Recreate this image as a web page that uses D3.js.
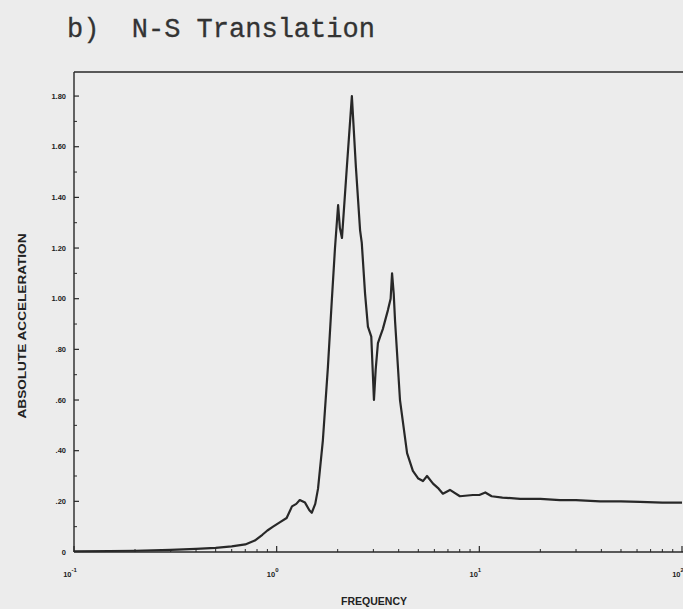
<!DOCTYPE html>
<html>
<head>
<meta charset="utf-8">
<script src="https://cdn.jsdelivr.net/npm/d3@7/dist/d3.min.js"></script>
<style>
  html, body { margin: 0; padding: 0; background: #ececec; }
  svg { display: block; }
</style>
</head>
<body>
<svg id="chart" width="683" height="609"></svg>
<script>
// Response spectrum, N-S translation: frequency (Hz) vs absolute acceleration
const frequency = [0.1, 0.15, 0.2, 0.3, 0.4, 0.5, 0.6, 0.7, 0.78, 0.85, 0.9, 0.96, 1.04, 1.12,
  1.19, 1.25, 1.3, 1.38, 1.45, 1.49, 1.55, 1.6, 1.69, 1.79, 1.87, 1.94, 2.01, 2.05, 2.1, 2.22,
  2.35, 2.46, 2.58, 2.63, 2.73, 2.82, 2.93, 3.02, 3.08, 3.16, 3.24, 3.34, 3.54, 3.65, 3.71, 3.78,
  3.84, 4.06, 4.4, 4.7, 5.0, 5.27, 5.52, 5.91, 6.3, 6.61, 7.16, 8.02, 9.29, 10.0, 10.7, 11.5,
  13, 15.9, 20, 25, 30, 39.4, 50, 62, 80, 100];
const acceleration = [0.003, 0.004, 0.005, 0.008, 0.012, 0.016, 0.022, 0.03, 0.045, 0.068, 0.085,
  0.1, 0.118, 0.134, 0.18, 0.19, 0.205, 0.195, 0.165, 0.155, 0.19, 0.25, 0.44, 0.73, 0.99, 1.2,
  1.37, 1.28, 1.24, 1.52, 1.80, 1.52, 1.27, 1.22, 1.02, 0.89, 0.85, 0.60, 0.72, 0.825, 0.85,
  0.88, 0.955, 1.0, 1.10, 1.02, 0.91, 0.60, 0.39, 0.32, 0.29, 0.28, 0.30, 0.27, 0.25, 0.23, 0.245,
  0.22, 0.225, 0.225, 0.235, 0.22, 0.215, 0.21, 0.21, 0.205, 0.205, 0.2, 0.2, 0.198, 0.195, 0.195];

const yTickValues = [0, 0.2, 0.4, 0.6, 0.8, 1.0, 1.2, 1.4, 1.6, 1.8];
const yTickLabels = ["0", ".20", ".40", ".60", ".80", "1.00", "1.20", "1.40", "1.60", "1.80"];
const xDecades = [0.1, 1, 10, 100];
const xDecadeExponents = ["-1", "0", "1", "2"];

const titleText = "b)  N-S Translation";
const xLabel = "FREQUENCY";
const yLabel = "ABSOLUTE ACCELERATION";

const svg = d3.select("#chart");
const plotLeft = 74, plotRight = 682, plotTop = 72, plotBottom = 552;

const x = d3.scaleLog().domain([0.1, 100]).range([plotLeft, plotRight]);
const y = d3.scaleLinear().domain([0, 1.895]).range([plotBottom, plotTop]);

const ink = "#282828";

// title
svg.append("text")
  .attr("x", 67).attr("y", 37)
  .attr("font-family", "'Liberation Mono', 'DejaVu Sans Mono', monospace")
  .attr("font-size", 27)
  .attr("fill", "#333")
  .attr("stroke", "#333").attr("stroke-width", 0.3)
  .style("white-space", "pre")
  .attr("xml:space", "preserve")
  .text(titleText);

// frame: left axis, top line, bottom axis
svg.append("line").attr("x1", plotLeft).attr("x2", plotLeft).attr("y1", plotTop).attr("y2", plotBottom)
  .attr("stroke", ink).attr("stroke-width", 1.4);
svg.append("line").attr("x1", plotLeft).attr("x2", 683).attr("y1", plotTop).attr("y2", plotTop)
  .attr("stroke", ink).attr("stroke-width", 1.4);
svg.append("line").attr("x1", plotLeft).attr("x2", 683).attr("y1", plotBottom).attr("y2", plotBottom)
  .attr("stroke", ink).attr("stroke-width", 1.4);

// y ticks (inward), majors every 0.2, minors between
const yMinor = d3.range(0.1, 1.9, 0.2);
svg.append("g").selectAll("line").data(yTickValues.slice(1)).join("line")
  .attr("x1", plotLeft).attr("x2", plotLeft + 5)
  .attr("y1", d => y(d)).attr("y2", d => y(d))
  .attr("stroke", ink).attr("stroke-width", 1.2);
svg.append("g").selectAll("line").data(yMinor).join("line")
  .attr("x1", plotLeft).attr("x2", plotLeft + 3)
  .attr("y1", d => y(d)).attr("y2", d => y(d))
  .attr("stroke", ink).attr("stroke-width", 1);

svg.append("g").selectAll("text").data(yTickValues).join("text")
  .attr("x", 66).attr("y", d => y(d) + 2.5)
  .attr("text-anchor", "end")
  .attr("font-family", "'Liberation Sans', Arial, sans-serif")
  .attr("font-weight", "bold")
  .attr("font-size", 7.5)
  .attr("fill", "#222")
  .text((d, i) => yTickLabels[i]);

// x ticks (inward): decades and 2..9 minors
const xMinor = [];
xDecades.slice(0, -1).forEach(d => { for (let k = 2; k <= 9; k++) xMinor.push(d * k); });
svg.append("g").selectAll("line").data(xDecades).join("line")
  .attr("x1", d => x(d)).attr("x2", d => x(d))
  .attr("y1", plotBottom).attr("y2", plotBottom - 6)
  .attr("stroke", ink).attr("stroke-width", 1.2);
svg.append("g").selectAll("line").data(xMinor).join("line")
  .attr("x1", d => x(d)).attr("x2", d => x(d))
  .attr("y1", plotBottom).attr("y2", plotBottom - 3)
  .attr("stroke", ink).attr("stroke-width", 1);

const xl = svg.append("g").selectAll("text").data(xDecades).join("text")
  .attr("x", d => x(d) - 4).attr("y", 577)
  .attr("text-anchor", "middle")
  .attr("font-family", "'Liberation Sans', Arial, sans-serif")
  .attr("font-weight", "bold")
  .attr("font-size", 7.5)
  .attr("fill", "#222");
xl.append("tspan").text("10");
xl.append("tspan").attr("dy", -5).attr("font-size", 6).text((d, i) => xDecadeExponents[i]);

// axis titles
svg.append("text")
  .attr("x", 374).attr("y", 605)
  .attr("text-anchor", "middle")
  .attr("font-family", "'Liberation Sans', Arial, sans-serif")
  .attr("font-weight", "bold")
  .attr("font-size", 10)
  .attr("textLength", 66)
  .attr("lengthAdjust", "spacingAndGlyphs")
  .attr("fill", "#222")
  .text(xLabel);

svg.append("text")
  .attr("transform", "translate(26,326) rotate(-90)")
  .attr("text-anchor", "middle")
  .attr("font-family", "'Liberation Sans', Arial, sans-serif")
  .attr("font-weight", "bold")
  .attr("font-size", 11)
  .attr("textLength", 185)
  .attr("lengthAdjust", "spacingAndGlyphs")
  .attr("fill", "#222")
  .text(yLabel);

// spectrum curve
const pts = frequency.map((f, i) => [f, acceleration[i]]);
const line = d3.line().x(d => x(d[0])).y(d => y(d[1])).curve(d3.curveLinear);
svg.append("path")
  .attr("d", line(pts))
  .attr("fill", "none")
  .attr("stroke", ink)
  .attr("stroke-width", 2.2)
  .attr("stroke-linejoin", "round");
</script>
</body>
</html>
